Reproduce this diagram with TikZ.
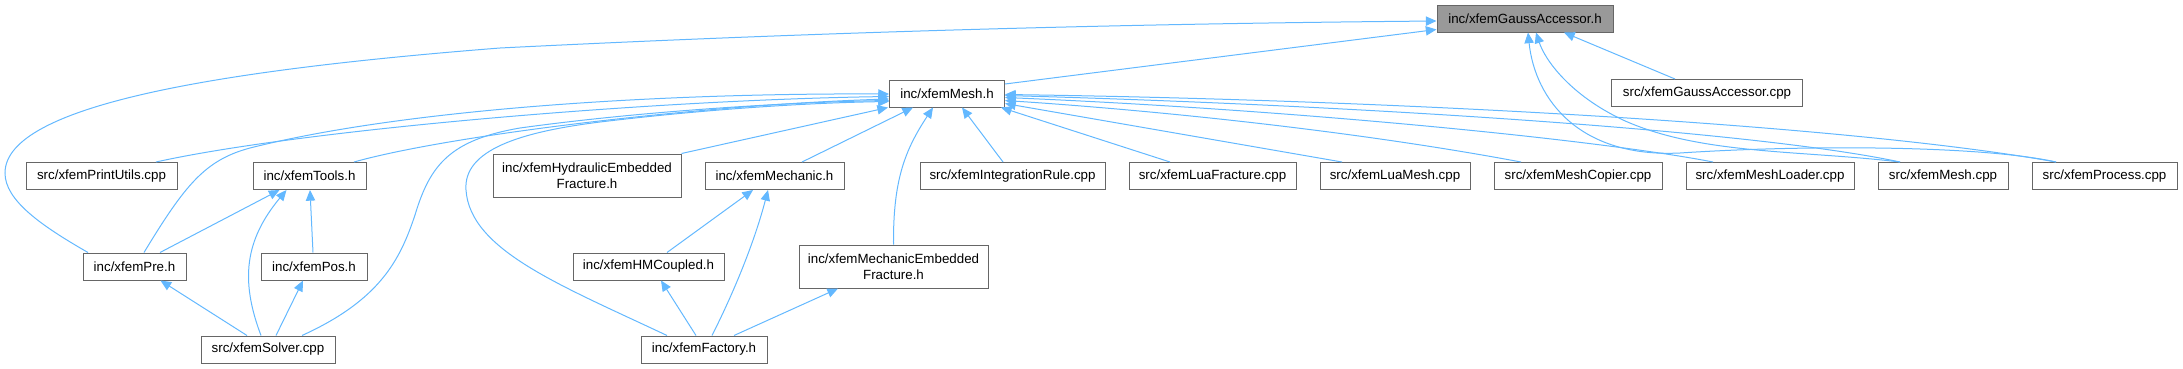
\documentclass[tikz,border=0pt]{standalone}
\usepackage{fontspec}
\setmainfont{Liberation Sans}
\usetikzlibrary{arrows.meta}
\definecolor{edgeblue}{HTML}{63B8FF}
\definecolor{boxline}{HTML}{666666}
\definecolor{boxgray}{HTML}{999999}
\tikzset{
  box/.style={draw=boxline, line width=0.75pt, fill=white, rectangle, inner sep=0pt,
    minimum height=27*0.75pt, font=\fontsize{10}{11.8}\selectfont, align=center},
  tall/.style={minimum height=43*0.75pt},
  bw/.style={minimum width=#1*0.75pt},
  edge/.style={draw=edgeblue, line width=0.75pt, -{Triangle[length=8pt,width=7pt]}},
}
\begin{document}
\begin{tikzpicture}[x=0.75pt, y=-0.75pt]
\useasboundingbox (0,0) rectangle (2183,368);
% nodes
\node[box, bw=176, fill=boxgray] (GA) at (1525,18.5) {inc/xfemGaussAccessor.h};
\node[box, bw=115] (Mesh) at (947,93.5) {inc/xfemMesh.h};
\node[box, bw=191] (GAcpp) at (1707,93) {src/xfemGaussAccessor.cpp};
\node[box, bw=151] (PU) at (101.5,176) {src/xfemPrintUtils.cpp};
\node[box, bw=113] (Tools) at (309.5,176) {inc/xfemTools.h};
\node[box, bw=188, tall] (Hyd) at (587,175.5) {inc/xfemHydraulicEmbedded\\Fracture.h};
\node[box, bw=139] (Mech) at (774.5,176) {inc/xfemMechanic.h};
\node[box, bw=185] (IR) at (1012.5,176) {src/xfemIntegrationRule.cpp};
\node[box, bw=167] (LF) at (1212.5,176) {src/xfemLuaFracture.cpp};
\node[box, bw=150] (LM) at (1395,176) {src/xfemLuaMesh.cpp};
\node[box, bw=168] (MC) at (1578,176) {src/xfemMeshCopier.cpp};
\node[box, bw=168] (ML) at (1770,176) {src/xfemMeshLoader.cpp};
\node[box, bw=130] (MCpp) at (1943,176) {src/xfemMesh.cpp};
\node[box, bw=145] (Proc) at (2104.5,176) {src/xfemProcess.cpp};
\node[box, bw=103] (Pre) at (134.5,266.5) {inc/xfemPre.h};
\node[box, bw=106] (Pos) at (314,266.5) {inc/xfemPos.h};
\node[box, bw=151] (HMC) at (648.5,266.5) {inc/xfemHMCoupled.h};
\node[box, bw=189, tall] (MEF) at (893.5,266.5) {inc/xfemMechanicEmbedded\\Fracture.h};
\node[box, bw=134] (Solver) at (268,349.5) {src/xfemSolver.cpp};
\node[box, bw=126] (Fact) at (704,349.5) {inc/xfemFactory.h};
% edges to GaussAccessor
\draw[edge] ([shift={(0,-9.5)}]Mesh.east) -- ([shift={(0,11)}]GA.west);
\draw[edge] ([shift={(-46.5,0)}]Pre.north) .. controls (40,225) and (5,200) .. (5,173)
  .. controls (5,105) and (220,70) .. (500,48)
  .. controls (800,33) and (1100,24) .. ([shift={(0,2.5)}]GA.west);
\draw[edge] ([shift={(-32,0)}]GAcpp.north) -- ([shift={(39,0)}]GA.south);
\draw[edge] ([shift={(-43,0)}]MCpp.north) .. controls (1800,150) and (1700,155) .. (1623,120)
  .. controls (1570,95) and (1545,60) .. ([shift={(11,0)}]GA.south);
\draw[edge] ([shift={(-48.5,0)}]Proc.north) .. controls (1980,145) and (1800,145) .. (1680,153)
  .. controls (1580,158) and (1535,100) .. ([shift={(3,0)}]GA.south);
% edges to Mesh from left
\draw[edge] ([shift={(9.5,0)}]Pre.north) .. controls (185,185) and (205,160) .. (250,148)
  .. controls (400,110) and (650,93) .. ([shift={(0,0.5)}]Mesh.west);
\draw[edge] ([shift={(54.5,0)}]PU.north) .. controls (300,130) and (650,100) .. ([shift={(0,3)}]Mesh.west);
\draw[edge] ([shift={(44.5,0)}]Tools.north) .. controls (450,135) and (700,105) .. ([shift={(0,5.5)}]Mesh.west);
\draw[edge] (Hyd.north east) -- ([shift={(-1,0)}]Mesh.south west);
\draw[edge] ([shift={(34,0)}]Solver.north) .. controls (380,300) and (400,260) .. (415,215)
  .. controls (430,165) and (450,140) .. (520,128)
  .. controls (650,110) and (800,102) .. ([shift={(0,7)}]Mesh.west);
\draw[edge] ([shift={(-37,0)}]Fact.north) .. controls (560,285) and (470,250) .. (466,190)
  .. controls (463,150) and (520,132) .. (600,122)
  .. controls (700,110) and (800,103) .. ([shift={(0,8)}]Mesh.west);
% edges to Mesh from below
\draw[edge] ([shift={(27.5,0)}]Mech.north) -- ([shift={(-34,0)}]Mesh.south);
\draw[edge] (MEF.north) .. controls (893,180) and (905,150) .. ([shift={(-14,0)}]Mesh.south);
\draw[edge] ([shift={(-9.5,0)}]IR.north) -- ([shift={(15,0)}]Mesh.south);
\draw[edge] ([shift={(-42.5,0)}]LF.north) -- ([shift={(-4,0)}]Mesh.south east);
% edges to Mesh from right
\draw[edge] ([shift={(-53,0)}]LM.north) -- ([shift={(0,10)}]Mesh.east);
\draw[edge] ([shift={(-57,0)}]MC.north) .. controls (1350,130) and (1150,110) .. ([shift={(0,7)}]Mesh.east);
\draw[edge] ([shift={(-57,0)}]ML.north) .. controls (1600,140) and (1300,110) .. ([shift={(0,4)}]Mesh.east);
\draw[edge] ([shift={(-43,0)}]MCpp.north) .. controls (1750,130) and (1350,105) .. ([shift={(0,2)}]Mesh.east);
\draw[edge] ([shift={(-48.5,0)}]Proc.north) .. controls (1850,125) and (1400,100) .. ([shift={(0,1)}]Mesh.east);
% Tools, Pre, Pos
\draw[edge] ([shift={(25.5,0)}]Pre.north) -- ([shift={(-30,0)}]Tools.south);
\draw[edge] ([shift={(-7,0)}]Solver.north) .. controls (240,280) and (245,240) .. ([shift={(-23,0)}]Tools.south);
\draw[edge] ([shift={(-1,0)}]Pos.north) -- ([shift={(0.5,0)}]Tools.south);
\draw[edge] ([shift={(-21,0)}]Solver.north) -- ([shift={(26,0)}]Pre.south);
\draw[edge] ([shift={(8,0)}]Solver.north) -- ([shift={(-11,0)}]Pos.south);
% Mechanic family
\draw[edge] ([shift={(18.5,0)}]HMC.north) -- ([shift={(-21.5,0)}]Mech.south);
\draw[edge] ([shift={(8,0)}]Fact.north) .. controls (735,290) and (755,240) .. ([shift={(-6.5,0)}]Mech.south);
\draw[edge] ([shift={(-8,0)}]Fact.north) -- ([shift={(12.5,0)}]HMC.south);
\draw[edge] ([shift={(30,0)}]Fact.north) -- ([shift={(-55.5,0)}]MEF.south);
\end{tikzpicture}
\end{document}
